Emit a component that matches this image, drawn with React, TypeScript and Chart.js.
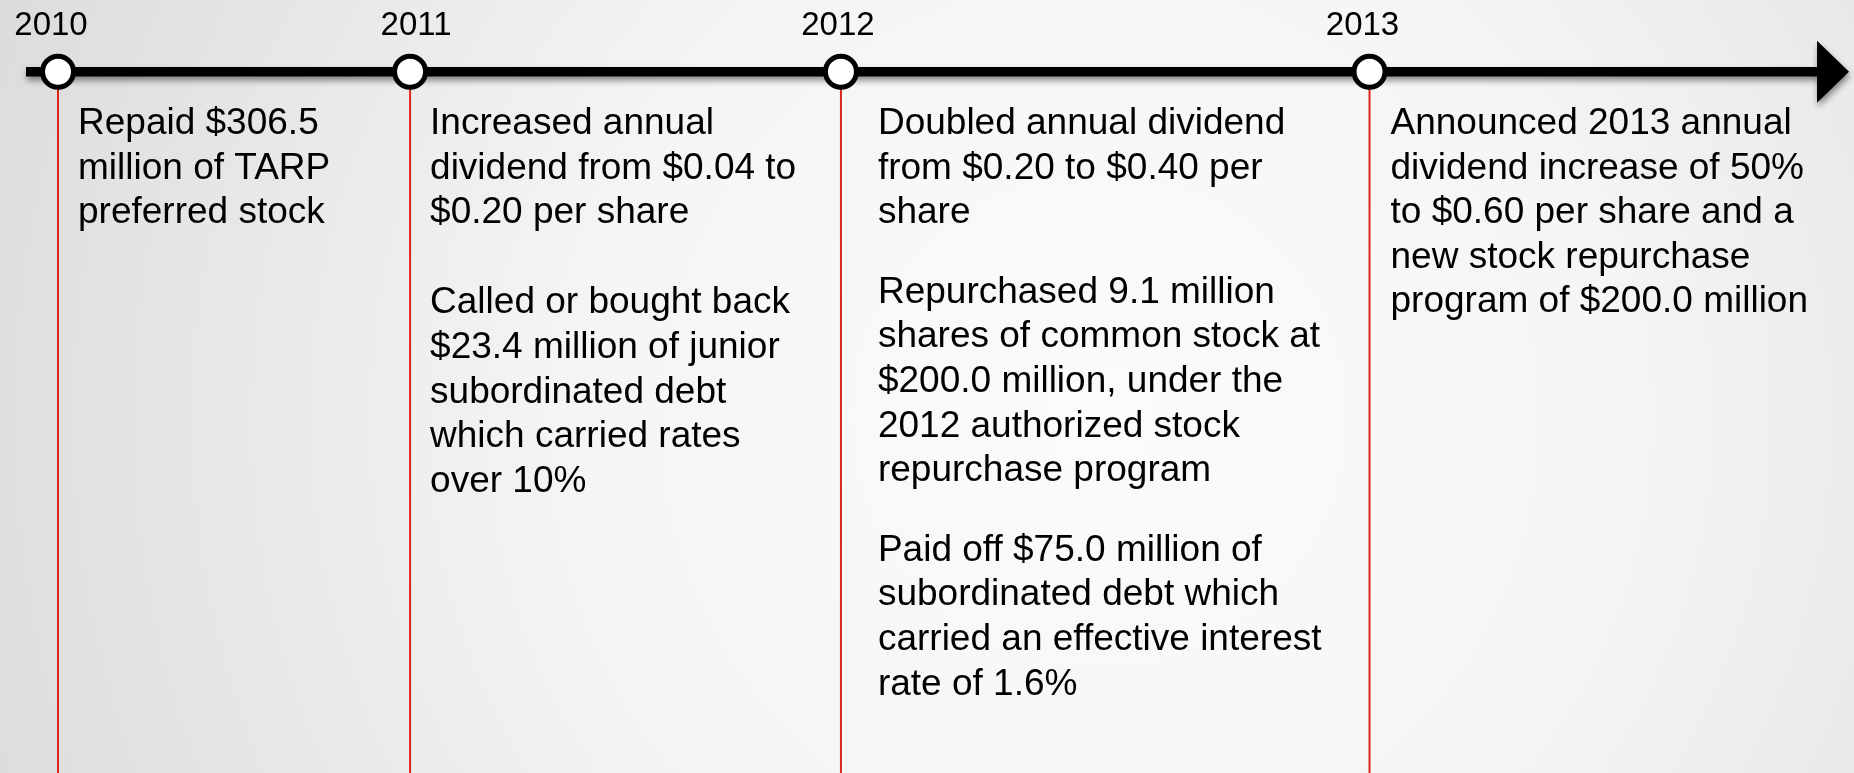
import React, { useEffect, useRef } from 'react';
import { Chart, registerables } from 'chart.js';

Chart.register(...registerables);

// ---- data ----
const years = ['2010', '2011', '2012', '2013'];
// position of each year marker along the timeline axis (axis shaft runs 0 → 100)
const eventPositions = [1.785, 21.42, 45.45, 74.93];
const axisStart = 0;
const axisEnd = 100;
const axisLevel = 90.72;

const notes2010 = [['Repaid $306.5', 'million of TARP', 'preferred stock']];
const notes2011 = [
  ['Increased annual', 'dividend from $0.04 to', '$0.20 per share'],
  ['Called or bought back', '$23.4 million of junior', 'subordinated debt', 'which carried rates', 'over 10%'],
];
const notes2012 = [
  ['Doubled annual dividend', 'from $0.20 to $0.40 per', 'share'],
  ['Repurchased 9.1 million', 'shares of common stock at', '$200.0 million, under the', '2012 authorized stock', 'repurchase program'],
  ['Paid off $75.0 million of', 'subordinated debt which', 'carried an effective interest', 'rate of 1.6%'],
];
const notes2013 = [
  ['Announced 2013 annual', 'dividend increase of 50%', 'to $0.60 per share and a', 'new stock repurchase', 'program of $200.0 million'],
];
const notes = [notes2010, notes2011, notes2012, notes2013];

// ---- styles ----
const FONT = '"Liberation Sans", Arial, Helvetica, sans-serif';
const textIndent = [20, 20, 37, 21];
const paragraphGap = [0, 45.5, 35, 0];
const labelNudge = [-7, 6, -3, -7];
const RED = 'rgb(218, 38, 28)';

const timelinePlugin = {
  id: 'timelineDecor',
  beforeDraw(chart: any) {
    const { ctx, width, height } = chart;
    ctx.save();
    const g = ctx.createRadialGradient(1100, 420, 0, 1100, 420, 1150);
    g.addColorStop(0, '#fbfbfb');
    g.addColorStop(0.45, '#f5f5f5');
    g.addColorStop(1, '#dddddd');
    ctx.fillStyle = g;
    ctx.fillRect(0, 0, width, height);
    ctx.restore();
  },
  beforeDatasetDraw(chart: any, args: any) {
    const ds = chart.data.datasets[args.index];
    if (ds.withShadow) {
      const ctx = chart.ctx;
      ctx.save();
      ctx.shadowColor = 'rgba(0,0,0,0.45)';
      ctx.shadowBlur = 6;
      ctx.shadowOffsetX = 1;
      ctx.shadowOffsetY = 4;
    }
  },
  afterDatasetDraw(chart: any, args: any) {
    const ds = chart.data.datasets[args.index];
    if (ds.withShadow) {
      const ctx = chart.ctx;
      const xs = chart.scales.x;
      const ys = chart.scales.y;
      const baseX = xs.getPixelForValue(axisEnd);
      const yy = ys.getPixelForValue(axisLevel);
      ctx.fillStyle = '#000';
      ctx.beginPath();
      ctx.moveTo(baseX - 2, yy - 31);
      ctx.lineTo(baseX + 30, yy);
      ctx.lineTo(baseX - 2, yy + 31);
      ctx.closePath();
      ctx.fill();
      ctx.restore();
    }
  },
  afterDraw(chart: any) {
    const { ctx } = chart;
    const xs = chart.scales.x;
    const ys = chart.scales.y;
    const yy = ys.getPixelForValue(axisLevel);
    ctx.save();
    ctx.fillStyle = '#000';
    ctx.textBaseline = 'alphabetic';
    // year labels
    ctx.font = `33px ${FONT}`;
    ctx.textAlign = 'center';
    years.forEach((yr, i) => {
      const px = xs.getPixelForValue(eventPositions[i]);
      ctx.fillText(yr, px + labelNudge[i], yy - 36.7);
    });
    // event notes
    ctx.font = `37px ${FONT}`;
    ctx.textAlign = 'left';
    const lineH = 44.6;
    notes.forEach((paras, i) => {
      const px = xs.getPixelForValue(eventPositions[i]) + textIndent[i];
      let base = yy + 62.3;
      paras.forEach((lines, pi) => {
        if (pi > 0) base += paragraphGap[i];
        lines.forEach((ln) => {
          ctx.fillText(ln, px, base);
          base += lineH;
        });
      });
    });
    ctx.restore();
  },
};

export default function App() {
  const ref = useRef<HTMLCanvasElement>(null);
  useEffect(() => {
    const dropData: any[] = [];
    eventPositions.forEach((p) => {
      dropData.push({ x: p, y: axisLevel }, { x: p, y: 0 }, { x: p, y: null });
    });
    const chart = new Chart(ref.current as HTMLCanvasElement, {
      type: 'line',
      data: {
        datasets: [
          {
            label: 'markers',
            data: eventPositions.map((p) => ({ x: p, y: axisLevel })),
            showLine: false,
            pointRadius: 15.5,
            pointBorderWidth: 5,
            pointBackgroundColor: '#ffffff',
            pointBorderColor: '#000000',
            clip: false,
            order: 0,
          } as any,
          {
            label: 'axis',
            data: [
              { x: axisStart, y: axisLevel },
              { x: axisEnd, y: axisLevel },
            ],
            borderColor: '#000000',
            borderWidth: 9.5,
            borderCapStyle: 'butt',
            pointRadius: 0,
            clip: false,
            order: 1,
            withShadow: true,
          } as any,
          {
            label: 'drops',
            data: dropData,
            borderColor: RED,
            borderWidth: 2,
            pointRadius: 0,
            spanGaps: false,
            clip: false,
            order: 2,
          } as any,
        ],
      },
      options: {
        responsive: false,
        animation: false,
        events: [],
        layout: { padding: 0, autoPadding: false },
        plugins: { legend: { display: false }, tooltip: { enabled: false } },
        scales: {
          x: { type: 'linear', display: false, min: -1.45, max: 101.95 },
          y: { type: 'linear', display: false, min: 0, max: 100 },
        },
      } as any,
      plugins: [timelinePlugin],
    });
    return () => chart.destroy();
  }, []);
  return (
    <div style={{ position: 'absolute', left: 0, top: 0, width: 1854, height: 773 }}>
      <canvas ref={ref} width={1854} height={773} style={{ display: 'block' }} />
    </div>
  );
}
